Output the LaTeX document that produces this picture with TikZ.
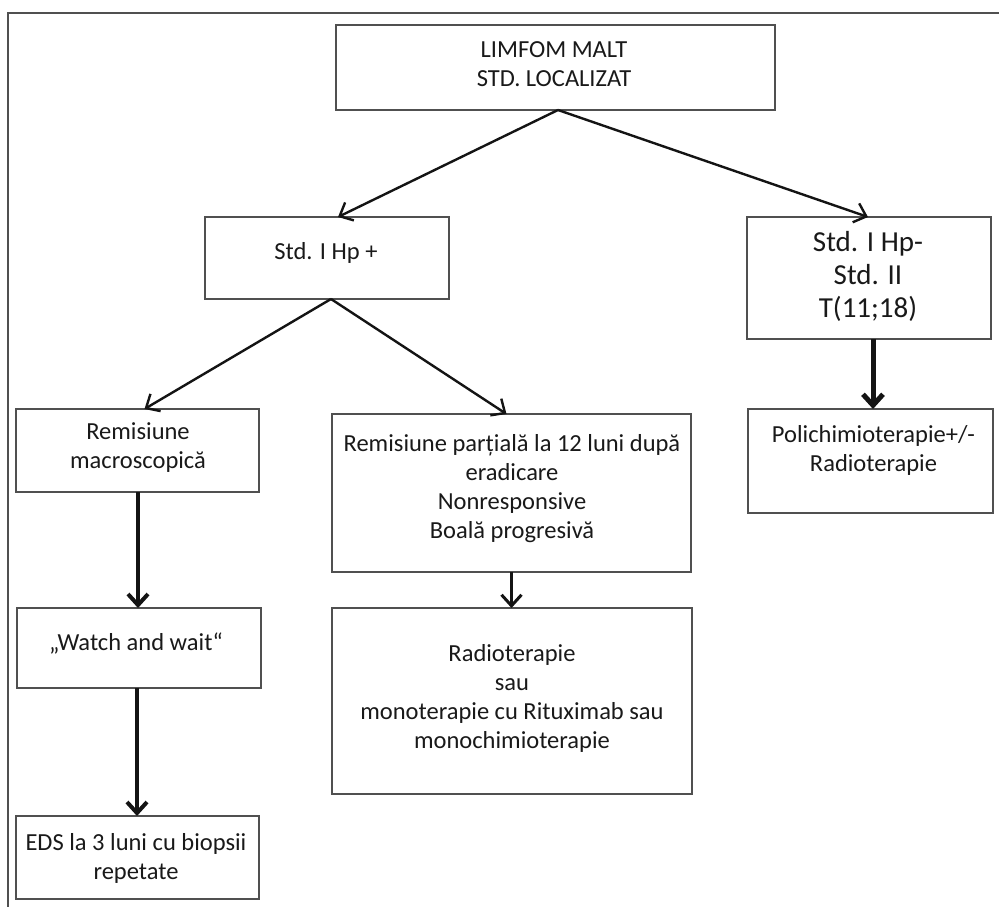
\documentclass[tikz,border=0pt]{standalone}
\usepackage{fontspec}
\setmainfont{Carlito}
\usetikzlibrary{arrows.meta,calc}
\definecolor{ln}{RGB}{80,80,80}
\definecolor{tx}{RGB}{25,25,25}
\definecolor{ar}{RGB}{20,20,20}
\begin{document}
\begin{tikzpicture}[x=1pt,y=-1pt,
  box/.style 2 args={draw=ln,line width=1.5pt,minimum width=#1,minimum height=#2,inner sep=0pt,outer sep=0pt},
  txt/.style={align=center,text=tx,font=\fontsize{24.5}{29}\selectfont,inner sep=0pt},
  bigtxt/.style={align=center,text=tx,font=\fontsize{29}{33}\selectfont,inner sep=0pt},
  arr/.style={draw=ar,line width=2.4pt,-{Straight Barb[length=11pt,width=20pt]}}]
\useasboundingbox (0,0) rectangle (999,907);
% frame
\draw[ln,line width=1.5pt] (999,13) -- (8,13) -- (8,907);
% boxes
\node[box={439}{85}] (top) at (555.5,67.5) {};
\node[box={244}{82}] (hp) at (327,258) {};
\node[box={244}{122}] (hpm) at (869,278) {};
\node[box={243}{83}] (rm) at (137.5,450.5) {};
\node[box={359}{158}] (rp) at (511.5,493) {};
\node[box={244}{80}] (ww) at (139,648) {};
\node[box={360}{186}] (rad) at (512,701) {};
\node[box={243}{83}] (eds) at (137.5,857.5) {};
\node[box={245}{104}] (poli) at (870.5,461) {};
% texts
\node[txt] (ttop) at (554,64.5) {LIMFOM MALT\\STD. LOCALIZAT};
\node[txt] (thp) at (326,253) {Std. I Hp +};
\node[bigtxt] (thpm) at (868,276) {Std. I Hp-\\Std. II\\T(11;18)};
\node[txt] (trm) at (138,447.5) {Remisiune\\macroscopică};
\node[txt] (trp) at (512,489) {Remisiune parțială la 12 luni după\\eradicare\\Nonresponsive\\Boală progresivă};
\node[txt] (tww) at (136,643) {„Watch and wait“};
\node[txt] (trad) at (512,698.5) {Radioterapie\\sau\\monoterapie cu Rituximab sau\\monochimioterapie};
\node[txt] (teds) at (136,858) {EDS la 3 luni cu biopsii\\repetate};
\node[txt] (tpoli) at (873.5,450.5) {Polichimioterapie+/-\\Radioterapie};
% connectors
\draw[arr] ([xshift=2.5pt]top.south) -- ([xshift=11pt]hp.north);
\draw[arr] ([xshift=2.5pt]top.south) -- ([xshift=-1pt]hpm.north);
\draw[arr] ([xshift=4pt]hp.south) -- ([xshift=7pt]rm.north);
\draw[arr] ([xshift=4pt]hp.south) -- ([xshift=-5pt]rp.north);
\draw[arr,line width=4pt] ($(rm.south)+(0.5,0)$) -- ($(rm.south |- ww.north)+(0.5,0)$);
\draw[arr,line width=4pt] ($(eds.north |- ww.south)+(-0.5,0)$) -- ($(eds.north)+(-0.5,0)$);
\draw[arr,line width=3pt] (rp.south) -- (rp.south |- rad.north);
\draw[arr,line width=5pt] ($(hpm.south)+(4,0)$) -- ($(hpm.south |- poli.north)+(4,0)$);
\end{tikzpicture}
\end{document}
